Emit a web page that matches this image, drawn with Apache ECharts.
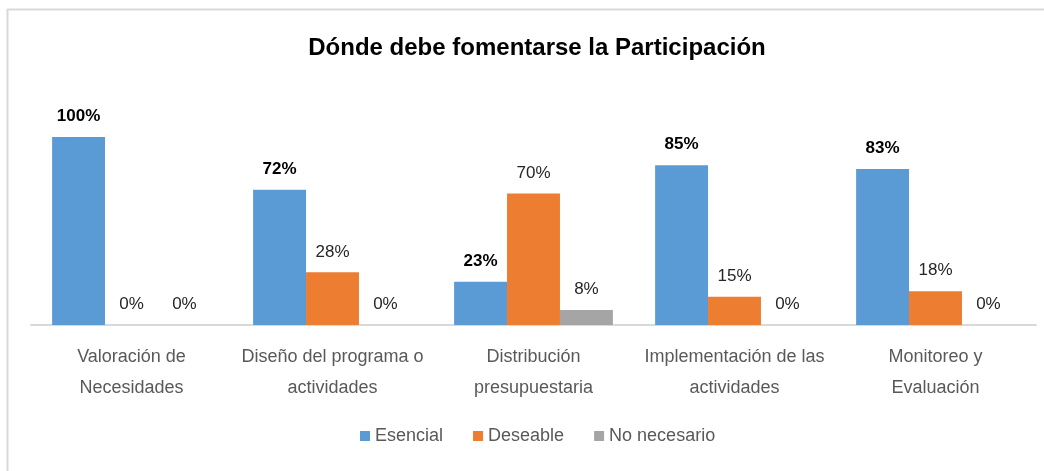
<!DOCTYPE html>
<html>
<head>
<meta charset="utf-8">
<script src="https://cdn.jsdelivr.net/npm/echarts@6/dist/echarts.min.js"></script>
<style>
  html, body { margin: 0; padding: 0; background: #fff; }
  #chart { width: 1044px; height: 471px; }
</style>
</head>
<body>
<div id="chart"></div>
<script>
const categories = [
  'Valoración de\nNecesidades',
  'Diseño del programa o\nactividades',
  'Distribución\npresupuestaria',
  'Implementación de las\nactividades',
  'Monitoreo y\nEvaluación',
]
const esencial = [100, 72, 23, 85, 83]
const deseable = [0, 28, 70, 15, 18]
const noNecesario = [0, 0, 8, 0, 0]

const font = '"Liberation Sans", sans-serif'

const labelStyle = (bold) => ({
  show: true,
  position: 'top',
  distance: 12,
  formatter: '{c}%',
  fontFamily: font,
  fontSize: 17,
  fontWeight: bold ? 'bold' : 'normal',
  color: bold ? '#000' : '#262626',
})

const chart = echarts.init(document.getElementById('chart'))
chart.setOption({
  animation: false,
  title: {
    text: 'Dónde debe fomentarse la Participación',
    left: 532,
    textAlign: 'center',
    top: 31,
    textStyle: { fontFamily: font, fontSize: 24, fontWeight: 'bold', color: '#000' },
  },
  legend: {
    bottom: 21,
    left: 355,
    itemWidth: 10,
    itemHeight: 10,
    itemGap: 30,
    icon: 'rect',
    textStyle: { fontFamily: font, fontSize: 18, color: '#595959' },
    data: ['Esencial', 'Deseable', 'No necesario'],
  },
  grid: { left: 31, right: 8, top: 137, bottom: 146 },
  xAxis: {
    type: 'category',
    data: categories,
    axisLine: { lineStyle: { color: '#d9d9d9', width: 2 } },
    axisTick: { show: false },
    axisLabel: {
      interval: 0,
      fontFamily: font,
      fontSize: 18,
      color: '#595959',
      lineHeight: 31,
      margin: 17,
    },
  },
  yAxis: { type: 'value', min: 0, max: 100, show: false, splitLine: { show: false } },
  series: [
    {
      name: 'Esencial', type: 'bar', data: esencial,
      itemStyle: { color: '#5b9bd5' }, barGap: '0%', barCategoryGap: '21%',
      label: labelStyle(true),
    },
    {
      name: 'Deseable', type: 'bar', data: deseable,
      itemStyle: { color: '#ed7d31' }, label: labelStyle(false),
    },
    {
      name: 'No necesario', type: 'bar', data: noNecesario,
      itemStyle: { color: '#a5a5a5' }, label: labelStyle(false),
    },
  ],
  graphic: [
    { type: 'line', shape: { x1: 7, y1: 9.5, x2: 1044, y2: 9.5 }, style: { stroke: '#d9d9d9', lineWidth: 2 } },
    { type: 'line', shape: { x1: 7.5, y1: 9, x2: 7.5, y2: 471 }, style: { stroke: '#d9d9d9', lineWidth: 2 } },
  ],
})
</script>
</body>
</html>
